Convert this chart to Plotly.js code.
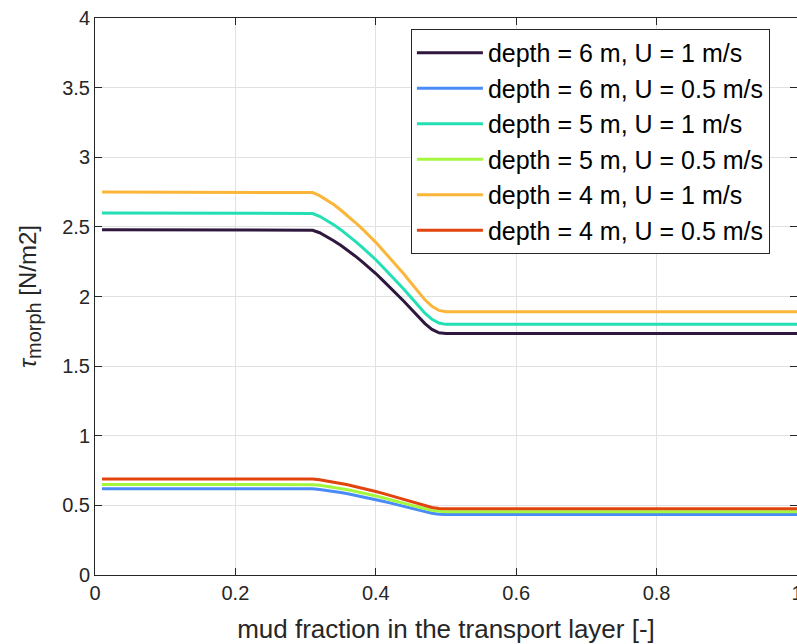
<!DOCTYPE html>
<html>
<head>
<meta charset="utf-8">
<script src="https://cdn.plot.ly/plotly-3.0.1.min.js"></script>
<style>html,body{margin:0;padding:0;background:#fff;}#chart{width:797px;height:644px;}</style>
</head>
<body>
<div id="chart"></div>
<script>
// mud fraction in the transport layer [-]
const mudFraction = [0.01, 0.30, 0.31, 0.32, 0.33, 0.34, 0.35, 0.36, 0.37, 0.38, 0.39, 0.40,
  0.41, 0.42, 0.43, 0.44, 0.45, 0.46, 0.47, 0.48, 0.49, 0.50, 1.00];

const seriesNames = [
  'depth = 6 m, U = 1 m/s',
  'depth = 6 m, U = 0.5 m/s',
  'depth = 5 m, U = 1 m/s',
  'depth = 5 m, U = 0.5 m/s',
  'depth = 4 m, U = 1 m/s',
  'depth = 4 m, U = 0.5 m/s'
];

const tauD6U1 = [2.48, 2.48, 2.476, 2.458, 2.431, 2.401, 2.368, 2.332, 2.293, 2.252, 2.21, 2.165,
  2.116, 2.068, 2.017, 1.966, 1.912, 1.858, 1.805, 1.764, 1.739, 1.735, 1.735];
const tauD6U05 = [0.62, 0.62, 0.619, 0.614, 0.608, 0.601, 0.592, 0.584, 0.574, 0.564, 0.553, 0.542,
  0.530, 0.518, 0.506, 0.493, 0.480, 0.466, 0.453, 0.443, 0.437, 0.435, 0.435];
const tauD5U1 = [2.6, 2.6, 2.596, 2.576, 2.548, 2.516, 2.48, 2.442, 2.4, 2.357, 2.312, 2.264,
  2.212, 2.16, 2.106, 2.052, 1.994, 1.936, 1.88, 1.836, 1.81, 1.8, 1.8];
const tauD5U05 = [0.65, 0.65, 0.649, 0.644, 0.637, 0.630, 0.621, 0.612, 0.601, 0.591, 0.580, 0.568,
  0.555, 0.543, 0.530, 0.516, 0.502, 0.488, 0.475, 0.464, 0.457, 0.455, 0.455];
const tauD4U1 = [2.75, 2.75, 2.746, 2.724, 2.694, 2.66, 2.621, 2.581, 2.535, 2.489, 2.44, 2.389,
  2.333, 2.277, 2.219, 2.161, 2.099, 2.036, 1.976, 1.929, 1.9, 1.89, 1.89];
const tauD4U05 = [0.69, 0.69, 0.689, 0.684, 0.676, 0.667, 0.658, 0.648, 0.636, 0.625, 0.613, 0.6,
  0.586, 0.572, 0.557, 0.543, 0.527, 0.512, 0.497, 0.485, 0.478, 0.475, 0.475];

const seriesValues = [tauD6U1, tauD6U05, tauD5U1, tauD5U05, tauD4U1, tauD4U05];
const seriesColors = ['#30173E', '#4A8BF7', '#22E0B4', '#A3F83E', '#FBB63A', '#E2440E'];

const xTicks = [0, 0.2, 0.4, 0.6, 0.8, 1];
const xTickText = ['0', '0.2', '0.4', '0.6', '0.8', '1'];
const yTicks = [0, 0.5, 1, 1.5, 2, 2.5, 3, 3.5, 4];
const yTickText = ['0', '0.5', '1', '1.5', '2', '2.5', '3', '3.5', '4'];

const FONT = 'Liberation Sans, Arial, Helvetica, sans-serif';
const AXC = '#262626';

const traces = seriesValues.map((vals, i) => ({
  x: mudFraction,
  y: vals,
  type: 'scatter',
  mode: 'lines',
  name: seriesNames[i],
  line: {color: seriesColors[i], width: 3, shape: 'linear'}
}));

const axisCommon = {
  showline: true, linecolor: AXC, linewidth: 1, mirror: 'ticks',
  ticks: 'inside', ticklen: 7, tickwidth: 1, tickcolor: AXC,
  showgrid: true, gridcolor: '#E1E1E1', gridwidth: 1,
  zeroline: false, tickfont: {family: FONT, size: 20, color: AXC},
  automargin: false, ticklabeloverflow: 'allow'
};

const layout = {
  width: 797, height: 644,
  margin: {l: 95, r: 0, t: 18, b: 69},
  paper_bgcolor: '#ffffff', plot_bgcolor: '#ffffff',
  showlegend: true,
  font: {family: FONT, color: AXC},
  xaxis: Object.assign({}, axisCommon, {
    range: [0, 1], tickvals: xTicks, ticktext: xTickText,
    title: {text: 'mud fraction in the transport layer [-]', font: {family: FONT, size: 26, color: AXC}, standoff: 17}
  }),
  yaxis: Object.assign({}, axisCommon, {
    range: [0, 4], tickvals: yTicks, ticktext: yTickText,
    title: {text: '<i>τ</i><sub><span style="font-size:20px">morph</span></sub> [N/m2]', font: {family: FONT, size: 24, color: AXC}, standoff: 18}
  }),
  legend: {
    x: 0.45, y: 0.9803, xanchor: 'left', yanchor: 'top',
    bgcolor: '#ffffff', bordercolor: AXC, borderwidth: 1,
    font: {family: FONT, size: 25, color: '#000000'},
    itemwidth: 66, tracegroupgap: 0
  }
};

Plotly.newPlot('chart', traces, layout, {staticPlot: true, displayModeBar: false});
</script>
</body>
</html>
